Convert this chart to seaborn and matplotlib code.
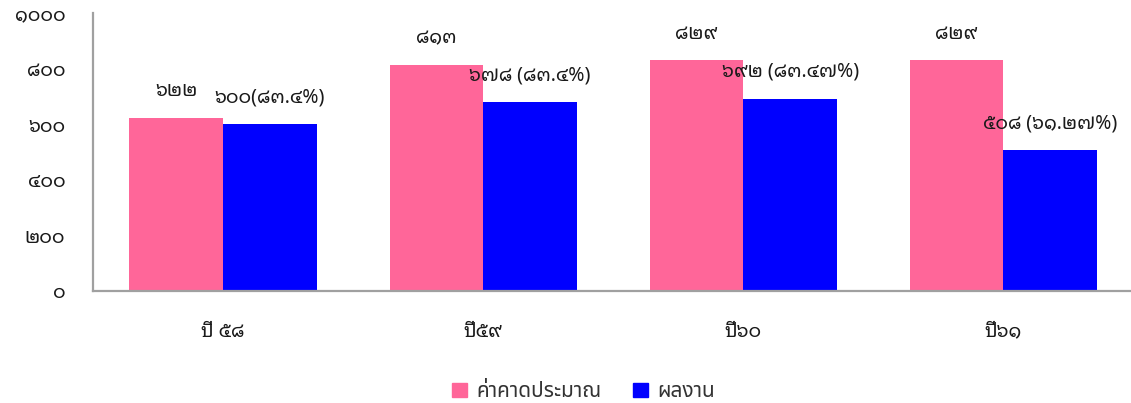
import matplotlib
matplotlib.use("Agg")
import matplotlib.pyplot as plt
from matplotlib.ticker import FuncFormatter
import pandas as pd
import seaborn as sns

# Budget estimate vs. actual output per fiscal year
years = ["ปี ๕๘", "ปี๕๙", "ปี๖๐", "ปี๖๑"]
estimate = [622, 813, 829, 829]
actual = [600, 678, 692, 508]
actual_pct = ["83.4", "83.4", "83.47", "61.27"]
pct_sep = ["", " ", " ", " "]
series_names = ["ค่าคาดประมาณ", "ผลงาน"]
colors = ["#FF6699", "#0000FF"]

THAI_DIGITS = str.maketrans("0123456789", "๐๑๒๓๔๕๖๗๘๙")


def thai(s):
    return str(s).translate(THAI_DIGITS)


df = pd.DataFrame({
    "year": years * 2,
    "value": estimate + actual,
    "series": [series_names[0]] * len(years) + [series_names[1]] * len(years),
})

sns.set_style("white")
num_font = ["Noto Sans Thai Looped", "DejaVu Sans"]
txt_font = ["Noto Sans Thai", "DejaVu Sans"]
plt.rcParams["font.family"] = num_font

fig = plt.figure(figsize=(11.31, 4.03), dpi=100)
ax = fig.add_axes([0.0822, 0.278, 0.92, 0.690])

sns.barplot(data=df, x="year", y="value", hue="series", palette=colors,
            width=0.72, gap=0, saturation=1, ax=ax, legend=False,
            edgecolor="none", linewidth=0)

ax.set_ylim(0, 1000)
ax.set_xlim(-0.5, 3.5)
ax.set_yticks(range(0, 1001, 200))
ax.yaxis.set_major_formatter(FuncFormatter(lambda v, p: thai(int(v))))
ax.set_xlabel("")
ax.set_ylabel("")
ax.tick_params(axis="y", length=0, pad=20, labelsize=14, labelcolor="#1a1a1a")
ax.tick_params(axis="x", length=0, pad=22, labelsize=14, labelcolor="#1a1a1a")
for lab in ax.get_xticklabels():
    lab.set_family(num_font)

for side in ("top", "right"):
    ax.spines[side].set_visible(False)
for side in ("left", "bottom"):
    ax.spines[side].set_color("#A0A0A0")
    ax.spines[side].set_linewidth(1.6)

est_labels = [thai(v) for v in estimate]
act_labels = [thai(v) + sep + "(" + thai(p) + "%)"
              for v, p, sep in zip(actual, actual_pct, pct_sep)]
ax.bar_label(ax.containers[0], labels=est_labels, padding=12,
             fontsize=14, color="#1a1a1a", family=num_font)
ax.bar_label(ax.containers[1], labels=act_labels, padding=12,
             fontsize=14, color="#1a1a1a", family=num_font)

handles = [plt.Rectangle((0, 0), 1, 1, color=c) for c in colors]
fig.legend(handles, series_names, loc="lower center", bbox_to_anchor=(0.516, -0.045),
           ncol=2, frameon=False, handlelength=0.7, handleheight=0.7,
           handletextpad=0.45, columnspacing=1.55,
           prop={"family": txt_font, "size": 15})
for t in fig.legends[0].get_texts():
    t.set_color("#333333")

fig.savefig("out.png", dpi=100)
